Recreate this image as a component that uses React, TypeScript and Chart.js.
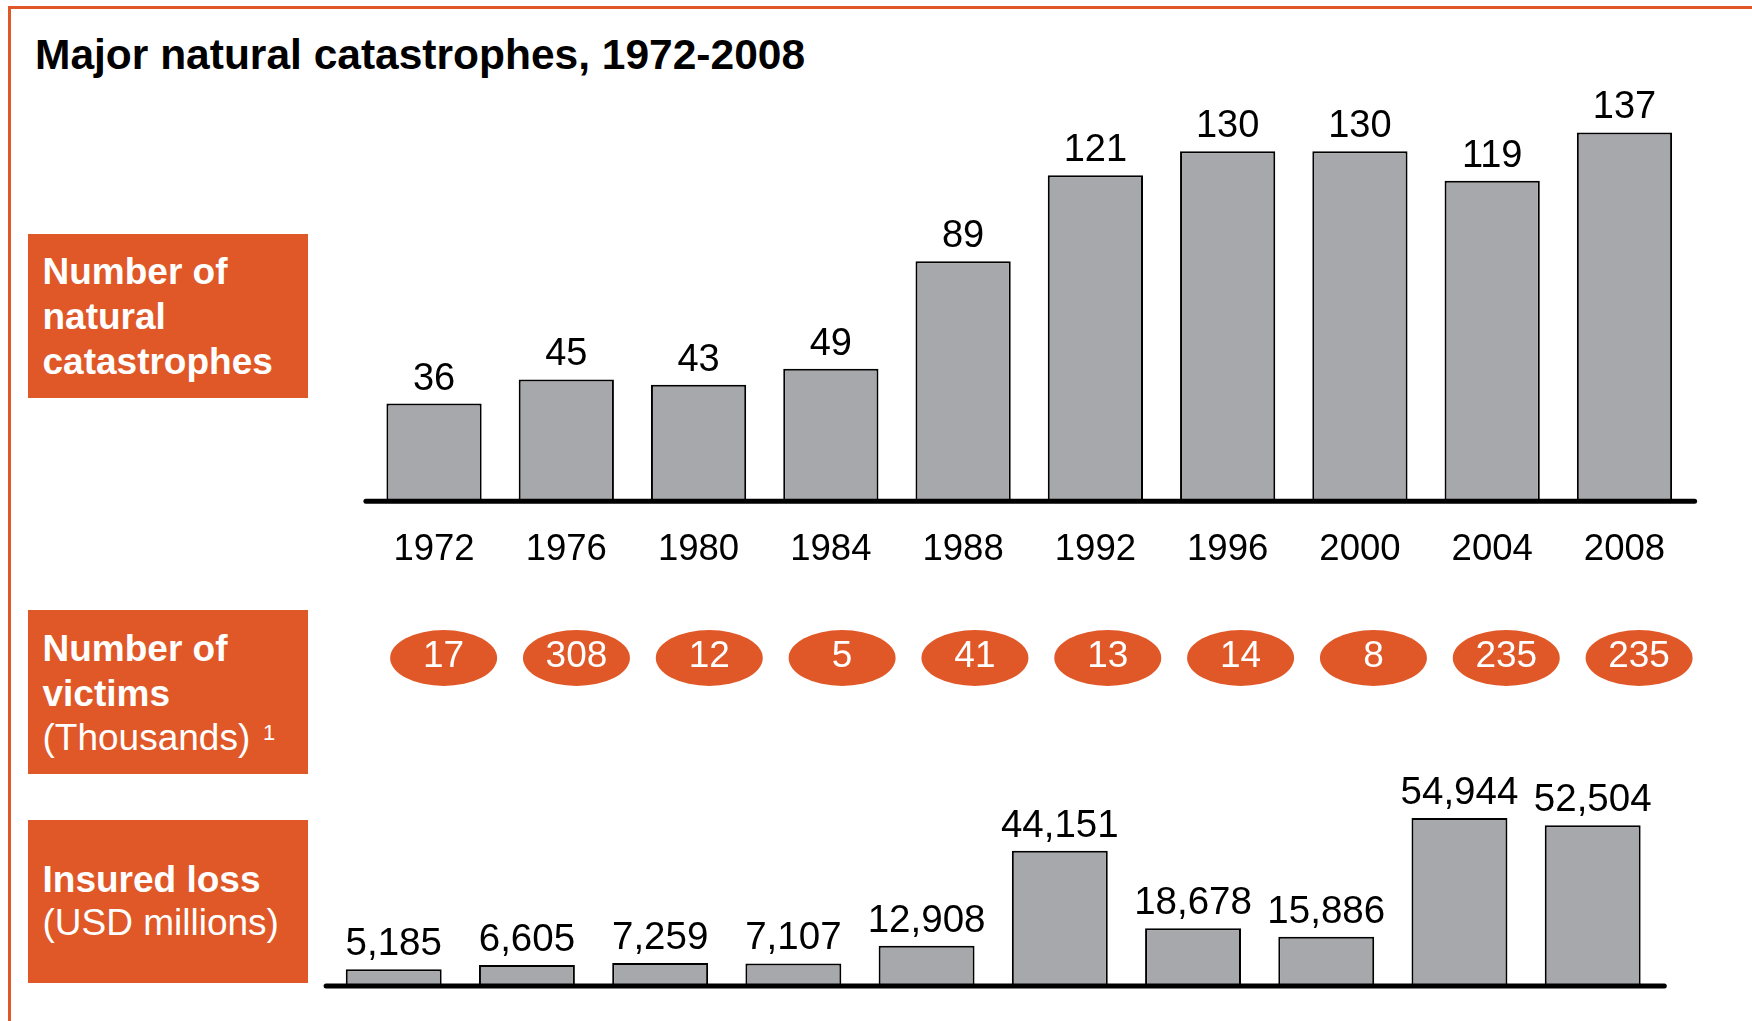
import React, { useEffect, useRef } from "react";
import { Chart, registerables } from "chart.js";

Chart.register(...registerables);

// ---------- data ----------
const years = ["1972", "1976", "1980", "1984", "1988", "1992", "1996", "2000", "2004", "2008"];
const catastrophes = [36, 45, 43, 49, 89, 121, 130, 130, 119, 137];
const victimsThousands = [17, 308, 12, 5, 41, 13, 14, 8, 235, 235];
const insuredLoss = [5185, 6605, 7259, 7107, 12908, 44151, 18678, 15886, 54944, 52504];

const titleText = "Major natural catastrophes, 1972-2008";

// ---------- styles ----------
const ORANGE = "#E05828";
const BAR_GRAY = "#A7A8AB";
const FONT = "'Liberation Sans', Arial, Helvetica, sans-serif";

const fmt = (v: number) => v.toLocaleString("en-US");

const valueLabels = (gap: number, size: number) => ({
  id: "valueLabels",
  afterDatasetsDraw(chart: any) {
    const ctx = chart.ctx;
    const meta = chart.getDatasetMeta(0);
    const data = chart.data.datasets[0].data as number[];
    ctx.save();
    ctx.font = `${size}px ${FONT}`;
    ctx.fillStyle = "#000";
    ctx.textAlign = "center";
    ctx.textBaseline = "alphabetic";
    meta.data.forEach((el: any, i: number) => {
      ctx.fillText(fmt(Number(data[i])), el.x, el.y - gap);
    });
    ctx.restore();
  },
});

const axisLine = (extL: number, extR: number) => ({
  id: "axisLine",
  afterDatasetsDraw(chart: any) {
    const ctx = chart.ctx;
    const xs = chart.scales.x;
    const ys = chart.scales.y;
    const py = ys.getPixelForValue(0) + 1;
    ctx.save();
    ctx.strokeStyle = "#000";
    ctx.lineWidth = 5;
    ctx.lineCap = "round";
    ctx.beginPath();
    ctx.moveTo(xs.left - extL, py);
    ctx.lineTo(xs.right + extR, py);
    ctx.stroke();
    ctx.restore();
  },
});

const ellipses = {
  id: "ellipses",
  afterDatasetsDraw(chart: any) {
    const ctx = chart.ctx;
    const meta = chart.getDatasetMeta(0);
    const data = chart.data.datasets[0].data as any[];
    ctx.save();
    meta.data.forEach((pt: any, i: number) => {
      ctx.beginPath();
      ctx.ellipse(pt.x, pt.y, 53.5, 28, 0, 0, Math.PI * 2);
      ctx.fillStyle = ORANGE;
      ctx.fill();
      ctx.fillStyle = "#fff";
      ctx.font = `37px ${FONT}`;
      ctx.textAlign = "center";
      ctx.textBaseline = "alphabetic";
      ctx.fillText(String(data[i].v), pt.x, pt.y + 9);
    });
    ctx.restore();
  },
};

const barDataset = (values: number[]) => ({
  data: values,
  backgroundColor: BAR_GRAY,
  borderColor: "#000",
  borderWidth: 2,
  borderSkipped: "bottom" as const,
  categoryPercentage: 1,
  barPercentage: 0.72,
});

const baseOptions = {
  responsive: false,
  maintainAspectRatio: false,
  animation: false as const,
  devicePixelRatio: 1,
  events: [] as any[],
};

const topConfig = (): any => ({
  type: "bar",
  data: { labels: years, datasets: [barDataset(catastrophes)] },
  options: {
    ...baseOptions,
    layout: { padding: { left: 367.9, right: 61.4, top: 17.5, bottom: 4 } },
    plugins: { legend: { display: false }, tooltip: { enabled: false } },
    scales: {
      x: {
        grid: { display: false, drawTicks: false },
        border: { display: false },
        ticks: {
          color: "#000",
          font: { family: FONT, size: 36.5 },
          padding: 28,
          maxRotation: 0,
          autoSkip: false,
        },
      },
      y: { display: false, min: 0, max: 150 },
    },
  },
  plugins: [valueLabels(14, 38), axisLine(2, 4)],
});

const middleConfig = (): any => ({
  type: "line",
  data: {
    labels: years,
    datasets: [
      {
        data: years.map((yr, i) => ({ x: yr, y: 0, v: victimsThousands[i] })),
        showLine: false,
        pointRadius: 0,
      },
    ],
  },
  options: {
    ...baseOptions,
    layout: { padding: { left: 377.2, right: 46.5, top: 0, bottom: 0 } },
    plugins: { legend: { display: false }, tooltip: { enabled: false } },
    scales: {
      x: { type: "category", offset: true, display: false },
      y: { display: false, min: -1, max: 1 },
    },
  },
  plugins: [ellipses],
});

const bottomConfig = (): any => ({
  type: "bar",
  data: { labels: years, datasets: [barDataset(insuredLoss)] },
  options: {
    ...baseOptions,
    layout: { padding: { left: 327.1, right: 92.7, top: 42.5, bottom: 36 } },
    plugins: { legend: { display: false }, tooltip: { enabled: false } },
    scales: {
      x: { display: false },
      y: { display: false, min: 0, max: 60000 },
    },
  },
  plugins: [valueLabels(14, 38.5), axisLine(1, 5)],
});

function ChartCanvas({ top, height, config }: { top: number; height: number; config: () => any }) {
  const ref = useRef<HTMLCanvasElement>(null);
  useEffect(() => {
    const chart = new Chart(ref.current as HTMLCanvasElement, config());
    return () => chart.destroy();
  }, []);
  return (
    <canvas
      ref={ref}
      width={1752}
      height={height}
      style={{ position: "absolute", left: 0, top, width: 1752, height, display: "block" }}
    />
  );
}

function TextLine({
  left,
  baseline,
  size,
  bold,
  color,
  children,
}: {
  left: number;
  baseline: number;
  size: number;
  bold?: boolean;
  color: string;
  children: React.ReactNode;
}) {
  return (
    <div
      style={{
        position: "absolute",
        left,
        top: baseline - 0.8465 * size,
        fontFamily: FONT,
        fontSize: size,
        lineHeight: `${size}px`,
        fontWeight: bold ? 700 : 400,
        color,
        whiteSpace: "nowrap",
      }}
    >
      {children}
    </div>
  );
}

const boxStyle = (top: number, height: number): React.CSSProperties => ({
  position: "absolute",
  left: 28,
  top,
  width: 280,
  height,
  background: ORANGE,
});

export default function App() {
  return (
    <div
      style={{
        position: "absolute",
        left: 0,
        top: 0,
        width: 1752,
        height: 1021,
        background: "#fff",
        overflow: "hidden",
      }}
    >
      {/* frame */}
      <div style={{ position: "absolute", left: 8, top: 6, width: 1744, height: 3, background: ORANGE }} />
      <div style={{ position: "absolute", left: 8, top: 6, width: 3, height: 1015, background: ORANGE }} />

      <TextLine left={35} baseline={70} size={42.5} bold color="#000">
        {titleText}
      </TextLine>

      {/* label boxes */}
      <div style={boxStyle(234, 164)} />
      <TextLine left={42.5} baseline={284.3} size={37} bold color="#fff">Number of</TextLine>
      <TextLine left={42.5} baseline={329.3} size={37} bold color="#fff">natural</TextLine>
      <TextLine left={42.5} baseline={374} size={37} bold color="#fff">catastrophes</TextLine>

      <div style={boxStyle(610, 164)} />
      <TextLine left={42.5} baseline={661.7} size={37} bold color="#fff">Number of</TextLine>
      <TextLine left={42.5} baseline={706} size={37} bold color="#fff">victims</TextLine>
      <TextLine left={42.5} baseline={750} size={37} color="#fff">(Thousands)</TextLine>
      <TextLine left={263} baseline={741} size={22} color="#fff">1</TextLine>

      <div style={boxStyle(820, 163)} />
      <TextLine left={42.5} baseline={892.7} size={37} bold color="#fff">Insured loss</TextLine>
      <TextLine left={42.5} baseline={935} size={37} color="#fff">(USD millions)</TextLine>

      {/* charts */}
      <ChartCanvas top={80} height={524} config={topConfig} />
      <ChartCanvas top={603} height={110} config={middleConfig} />
      <ChartCanvas top={760} height={261} config={bottomConfig} />
    </div>
  );
}
